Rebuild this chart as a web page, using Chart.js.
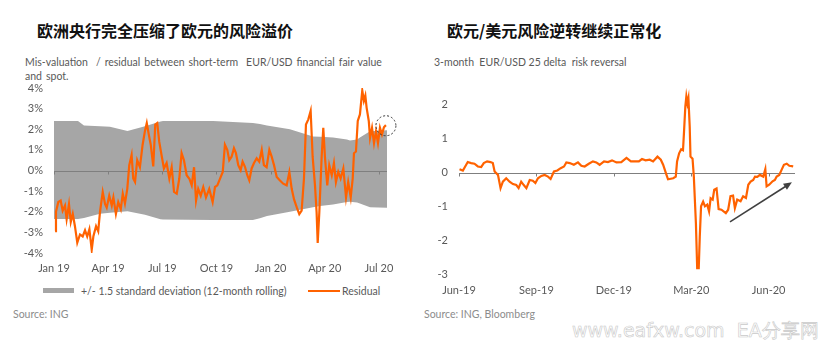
<!DOCTYPE html>
<html lang="zh">
<head>
<meta charset="UTF-8" />
<title>欧元风险溢价与风险逆转</title>
<script src="https://cdn.jsdelivr.net/npm/chart.js"></script>
<style>
  body {
    margin: 0;
    width: 831px;
    height: 343px;
    background: #fff;
    position: relative;
    overflow: hidden;
    font-family: Lato, "Noto Sans", sans-serif;
    color: #595959;
  }
  .title {
    position: absolute;
    top: 20px;
    font-family: "Noto Sans CJK SC", sans-serif;
    font-weight: 700;
    font-size: 16px;
    line-height: 20px;
    color: #111;
    white-space: nowrap;
  }
  .sub {
    position: absolute;
    top: 55px;
    font-size: 10.5px;
    line-height: 14px;
    color: #595959;
    white-space: nowrap;
  }
  .source {
    position: absolute;
    top: 307px;
    font-size: 10.5px;
    line-height: 14px;
    color: #8c8c8c;
  }
  .legend {
    position: absolute;
    top: 284px;
    left: 43px;
    height: 14px;
    font-size: 10.5px;
    line-height: 14px;
    color: #595959;
    white-space: nowrap;
  }
  .legend span { position: absolute; top: 0; }
  .legend i { position: absolute; display: block; }
  canvas { position: absolute; }
  .mark {
    position: absolute;
    left: 572px;
    top: 319px;
    font-family: "DejaVu Sans", sans-serif;
    font-size: 19px;
    line-height: 22px;
    color: #fff;
    -webkit-text-stroke: 0.6px #c9c9c9;
    white-space: nowrap;
  }
</style>
</head>
<body>

<div class="title" style="left:37px">欧洲央行完全压缩了欧元的风险溢价</div>
<div class="sub" style="left:25px;word-spacing:1.3px">Mis-valuation&nbsp; / residual between short-term&nbsp; EUR/USD financial fair value<br>and spot.</div>
<canvas id="misvalChart" width="400" height="200" style="left:0;top:80px"></canvas>
<div class="legend" id="misvalLegend"></div>
<div class="source" style="left:13px">Source: ING</div>

<div class="title" style="left:447px">欧元/美元风险逆转继续正常化</div>
<div class="sub" style="left:434px">3-month&nbsp; EUR/USD 25 delta&nbsp; risk reversal</div>
<canvas id="rrChart" width="400" height="220" style="left:415px;top:80px"></canvas>
<div class="source" style="left:424px">Source: ING, Bloomberg</div>

<div class="mark">www.eafxw.com&nbsp;&nbsp;EA分享网</div>

<script>
  // ---- left panel: residual vs +/-1.5 sd band (x in months since Jan 2019)
  const misvalTickMonths = [0, 3, 6, 9, 12, 15, 18];
  const misvalTickLabels = ["Jan 19", "Apr 19", "Jul 19", "Oct 19", "Jan 20", "Apr 20", "Jul 20"];

  const bandMonths = [0, 1.33, 1.66, 2.55, 3.10, 4.07, 5.04, 5.9, 6.04, 8.81, 11.02, 11.41, 11.8,
    13.07, 14.35, 14.74, 15.46, 16.23, 16.4, 16.79, 16.95, 17.51, 18.45];
  const bandUpper = [2.4, 2.4, 2.18, 2.15, 2.12, 1.92, 2.15, 2.38, 2.4, 2.4, 2.3, 2.25, 2.18,
    2.0, 1.65, 1.64, 1.6, 1.5, 1.45, 1.5, 1.6, 1.9, 1.95];
  const bandLower = [-2.35, -2.35, -2.3, -2.1, -2.05, -1.97, -2.15, -2.36, -2.38, -2.4, -2.4, -2.32, -2.2,
    -2.0, -1.78, -1.72, -1.65, -1.53, -1.52, -1.55, -1.6, -1.78, -1.8];

  const residualMonths = [0.06, 0.11, 0.24, 0.37, 0.48, 0.61, 0.70, 0.83, 0.93, 1.04,
    1.16, 1.29, 1.44, 1.59, 1.72, 1.84, 1.96, 2.09, 2.18, 2.33,
    2.45, 2.55, 2.70, 2.83, 2.92, 3.06, 3.20, 3.29, 3.43, 3.56,
    3.70, 3.81, 3.93, 4.06, 4.17, 4.30, 4.39, 4.49, 4.61, 4.76,
    4.91, 5.04, 5.14, 5.25, 5.36, 5.50, 5.61, 5.72, 5.83, 5.97,
    6.09, 6.24, 6.39, 6.52, 6.65, 6.80, 6.94, 7.07, 7.20, 7.35,
    7.50, 7.63, 7.76, 7.87, 7.99, 8.13, 8.27, 8.42, 8.60, 8.79,
    8.92, 9.05, 9.20, 9.35, 9.47, 9.60, 9.71, 9.84, 9.97, 10.08,
    10.21, 10.34, 10.45, 10.58, 10.71, 10.82, 10.95, 11.08, 11.23, 11.37,
    11.51, 11.63, 11.78, 11.93, 12.06, 12.19, 12.34, 12.52, 12.70, 12.89,
    13.04, 13.17, 13.30, 13.45, 13.59, 13.72, 13.85, 13.96, 14.09, 14.22,
    14.33, 14.46, 14.55, 14.61, 14.70, 14.83, 14.92, 15.01, 15.14, 15.25,
    15.39, 15.51, 15.62, 15.75, 15.88, 16.03, 16.18, 16.30, 16.44, 16.55,
    16.62, 16.73, 16.83, 16.95, 17.08, 17.17, 17.25, 17.32, 17.44, 17.51,
    17.62, 17.73, 17.84, 17.95, 18.06, 18.17, 18.28, 18.39];
  const residualValues = [-2.94, -2.0, -1.53, -1.46, -1.95, -1.7, -2.36, -1.63, -2.5, -2.1,
    -2.7, -3.5, -3.1, -3.2, -2.9, -3.2, -2.85, -3.84, -3.2, -2.7,
    -2.95, -2.0, -1.04, -1.63, -1.8, -1.22, -1.7, -1.3, -2.1, -1.53,
    -1.87, -1.12, -1.6, -0.89, 0.26, 0.75, -0.39, -0.56, 0.5, 0.16,
    1.25, 1.92, 2.3, 1.75, 1.25, 0.2, 2.23, 2.3, 1.4, 0.69,
    0.1, 0.36, -0.39, 0.16, -1.04, -1.12, -0.4, 0.84, 0.5, -0.23,
    -0.4, -0.72, 0.16, -1.46, -0.89, -1.22, -0.8, -1.3, -0.89, -1.53,
    -0.8, -0.72, -0.39, -0.07, 1.25, 1.0, 0.5, 0.67, 1.08, 0.84,
    0.26, 0.02, 0.43, 0.18, -0.23, -0.48, 0.1, 0.36, 0.59, 0.43,
    1.0, 0.26, 0.16, 1.0, 0.67, 0.26, -0.31, -0.48, -0.64, -0.72,
    -0.07, -0.89, -1.4, -1.79, -2.12, -1.95, -0.39, 2.23, 2.48, 2.89,
    0.67, -0.72, -2.03, -3.51, -2.03, 0.67, 2.07, 0.67, -0.72, 0.26,
    -0.23, 0.36, -0.56, -0.07, -0.39, 0.1, -1.3, -0.56, -1.3, -0.39,
    0.84, 0.92, 2.4, 2.72, 3.88, 3.38, 3.63, 3.05, 2.4, 1.58,
    2.07, 1.33, 1.9, 1.33, 2.07, 1.75, 2.1, 2.2];

  // dashed ring around the latest reading
  const latestMark = { x: 18.39, y: 2.17, r: 10 };

  // ---- right panel: 3m 25d risk reversal (x in months since Jun 2019)
  const rrTickMonths = [0, 3, 6, 9, 12];
  const rrTickLabels = ["Jun-19", "Sep-19", "Dec-19", "Mar-20", "Jun-20"];

  const rrMonths = [0.02, 0.15, 0.24, 0.34, 0.47, 0.60, 0.73, 0.86, 0.96, 1.09,
    1.22, 1.31, 1.38, 1.51, 1.61, 1.70, 1.83, 1.96, 2.09, 2.22,
    2.31, 2.41, 2.51, 2.61, 2.74, 2.86, 2.96, 3.06, 3.19, 3.32,
    3.45, 3.55, 3.68, 3.81, 3.94, 4.07, 4.16, 4.29, 4.45, 4.61,
    4.74, 4.87, 5.03, 5.19, 5.32, 5.45, 5.62, 5.77, 5.93, 6.10,
    6.29, 6.49, 6.66, 6.81, 6.97, 7.09, 7.23, 7.39, 7.52, 7.69,
    7.82, 7.91, 8.04, 8.10, 8.30, 8.40, 8.45, 8.53, 8.61, 8.68,
    8.72, 8.77, 8.81, 8.85, 8.89, 8.94, 8.97, 9.05, 9.10, 9.18,
    9.23, 9.29, 9.33, 9.38, 9.46, 9.53, 9.62, 9.69, 9.75, 9.83,
    9.89, 9.98, 10.06, 10.17, 10.34, 10.43, 10.52, 10.62, 10.69, 10.78,
    10.91, 11.01, 11.12, 11.21, 11.30, 11.40, 11.47, 11.56, 11.66, 11.79,
    11.87, 11.92, 12.02, 12.15, 12.24, 12.31, 12.41, 12.50, 12.59, 12.70,
    12.80, 12.95];
  const rrValues = [0.10, 0.06, 0.18, 0.31, 0.28, 0.26, 0.18, 0.16, 0.28, 0.33,
    0.31, 0.28, 0.03, -0.07, -0.46, -0.27, -0.17, -0.27, -0.34, -0.37,
    -0.46, -0.27, -0.37, -0.46, -0.22, -0.24, -0.31, -0.17, -0.10, -0.07,
    -0.12, -0.19, 0.03, 0.06, 0.13, 0.18, 0.30, 0.28, 0.23, 0.30,
    0.20, 0.18, 0.26, 0.33, 0.30, 0.23, 0.33, 0.31, 0.36, 0.30,
    0.31, 0.43, 0.33, 0.33, 0.33, 0.40, 0.36, 0.38, 0.33, 0.47,
    0.38, 0.23, -0.07, -0.20, -0.17, -0.12, 0.33, 0.57, 0.69, 0.66,
    1.21, 1.95, 2.25, 2.05, 2.20, 1.36, 0.47, 0.41, -0.12, -1.50,
    -2.83, -2.83, -1.90, -1.00, -0.86, -1.00, -0.95, -1.15, -0.76, -0.80,
    -0.51, -0.47, -1.08, -1.10, -1.20, -1.10, -0.70, -0.68, -1.05, -0.80,
    -0.85, -0.70, -0.75, -0.36, -0.27, -0.22, -0.12, -0.13, -0.07, -0.12,
    0.10, -0.41, -0.36, -0.26, -0.22, -0.12, -0.07, 0.08, 0.23, 0.26,
    0.20, 0.18];

  // trend arrow under the recovery, in data units
  const trendArrow = { from: { x: 10.50, y: -1.46 }, to: { x: 12.90, y: -0.29 } };

  const ORANGE = "#ff6200";
  const BAND_GREY = "#a6a6a6";
  const TICK_COLOR = "#595959";
  const tickFont = { family: "Lato", size: 11 };

  const toPoints = (xs, ys) => xs.map((x, i) => ({ x, y: ys[i] }));

  // keep tick labels from pushing the plot area around
  const noScalePadding = s => {
    s.paddingTop = 0;
    s.paddingBottom = 0;
    s.paddingLeft = 0;
    s.paddingRight = 0;
  };

  // zero line with little ticks, drawn over the band but under the lines
  const zeroAxis = {
    id: "zeroAxis",
    beforeDatasetsDraw(chart) {
      const { ctx, chartArea, scales: { x, y } } = chart;
      const y0 = Math.round(y.getPixelForValue(0)) + 0.5;
      ctx.save();
      ctx.strokeStyle = "#7f7f7f";
      ctx.lineWidth = 1;
      ctx.beginPath();
      ctx.moveTo(chartArea.left, y0);
      ctx.lineTo(chartArea.right, y0);
      x.ticks.forEach(t => {
        const px = Math.round(x.getPixelForValue(t.value)) + 0.5;
        ctx.moveTo(px, y0);
        ctx.lineTo(px, y0 + 3);
      });
      ctx.stroke();
      ctx.restore();
    }
  };

  const ringMark = {
    id: "ringMark",
    afterDatasetsDraw(chart) {
      const { ctx, scales: { x, y } } = chart;
      ctx.save();
      ctx.strokeStyle = "#333";
      ctx.lineWidth = 1;
      ctx.setLineDash([2, 2]);
      ctx.beginPath();
      ctx.arc(x.getPixelForValue(latestMark.x), y.getPixelForValue(latestMark.y), latestMark.r, 0, Math.PI * 2);
      ctx.stroke();
      ctx.restore();
    }
  };

  const arrowMark = {
    id: "arrowMark",
    afterDatasetsDraw(chart) {
      const { ctx, scales: { x, y } } = chart;
      const x1 = x.getPixelForValue(trendArrow.from.x), y1 = y.getPixelForValue(trendArrow.from.y);
      const x2 = x.getPixelForValue(trendArrow.to.x), y2 = y.getPixelForValue(trendArrow.to.y);
      const a = Math.atan2(y2 - y1, x2 - x1);
      const head = 9;
      ctx.save();
      ctx.strokeStyle = "#404040";
      ctx.fillStyle = "#404040";
      ctx.lineWidth = 1.6;
      ctx.beginPath();
      ctx.moveTo(x1, y1);
      ctx.lineTo(x2 - head * 0.8 * Math.cos(a), y2 - head * 0.8 * Math.sin(a));
      ctx.stroke();
      ctx.beginPath();
      ctx.moveTo(x2, y2);
      ctx.lineTo(x2 - head * Math.cos(a - 0.42), y2 - head * Math.sin(a - 0.42));
      ctx.lineTo(x2 - head * Math.cos(a + 0.42), y2 - head * Math.sin(a + 0.42));
      ctx.closePath();
      ctx.fill();
      ctx.restore();
    }
  };

  function monthAxis(max, tickMonths, tickLabels, height, padding) {
    return {
      type: "linear",
      min: 0,
      max: max,
      grid: { display: false, drawTicks: false },
      border: { display: false },
      afterBuildTicks: s => { s.ticks = tickMonths.map(v => ({ value: v })); },
      afterFit: s => { s.height = height; noScalePadding(s); },
      ticks: {
        autoSkip: false,
        maxRotation: 0,
        padding: padding,
        color: TICK_COLOR,
        font: tickFont,
        callback: (v, i) => tickLabels[i]
      }
    };
  }

  function valueAxis(min, max, width, fmt) {
    return {
      min: min,
      max: max,
      grid: { display: false, drawTicks: false },
      border: { display: false },
      afterFit: s => { s.width = width; noScalePadding(s); },
      ticks: {
        stepSize: 1,
        padding: 11,
        color: TICK_COLOR,
        font: tickFont,
        callback: fmt
      }
    };
  }

  new Chart(document.getElementById("misvalChart"), {
    type: "line",
    data: {
      datasets: [
        {
          label: "+/- 1.5 standard deviation (12-month rolling)",
          data: toPoints(bandMonths, bandUpper),
          borderWidth: 0,
          pointRadius: 0,
          backgroundColor: BAND_GREY,
          fill: "+1"
        },
        {
          label: "band lower",
          data: toPoints(bandMonths, bandLower),
          borderWidth: 0,
          pointRadius: 0,
          fill: false
        },
        {
          label: "Residual",
          data: toPoints(residualMonths, residualValues),
          borderColor: ORANGE,
          borderWidth: 2.2,
          pointRadius: 0,
          fill: false
        }
      ]
    },
    options: {
      responsive: false,
      animation: false,
      layout: { padding: { left: 0, right: 13, top: 8, bottom: 0 } },
      scales: {
        x: monthAxis(18.45, misvalTickMonths, misvalTickLabels, 27, 9),
        y: valueAxis(-4, 4, 54, v => v + "%")
      },
      plugins: {
        legend: { display: false },
        tooltip: { enabled: false },
        filler: { drawTime: "beforeDatasetsDraw" }
      }
    },
    plugins: [zeroAxis, ringMark]
  });

  new Chart(document.getElementById("rrChart"), {
    type: "line",
    data: {
      datasets: [{
        label: "3-month EUR/USD 25 delta risk reversal",
        data: toPoints(rrMonths, rrValues),
        borderColor: ORANGE,
        borderWidth: 2.2,
        pointRadius: 0,
        fill: false
      }]
    },
    options: {
      responsive: false,
      animation: false,
      layout: { padding: { left: 0, right: 20, top: 8, bottom: 0 } },
      scales: {
        x: monthAxis(13.02, rrTickMonths, rrTickLabels, 26, 10),
        y: valueAxis(-3, 2.5, 44, v => Number.isInteger(v) ? v : null)
      },
      plugins: {
        legend: { display: false },
        tooltip: { enabled: false }
      }
    },
    plugins: [zeroAxis, arrowMark]
  });

  // legend for the left panel
  const legendEl = document.getElementById("misvalLegend");
  legendEl.innerHTML =
    '<i style="left:0;top:4px;width:31px;height:5px;background:' + BAND_GREY + '"></i>' +
    '<span style="left:38px">+/- 1.5 standard deviation (12-month rolling)</span>' +
    '<i style="left:265px;top:6px;width:32px;height:2px;background:' + ORANGE + '"></i>' +
    '<span style="left:299px">Residual</span>';
</script>

</body>
</html>
